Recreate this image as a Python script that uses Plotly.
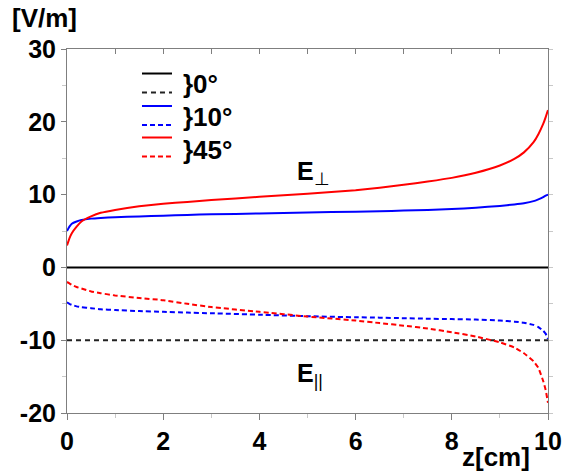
import plotly.graph_objects as go

# Field components along the gap, z in cm, E in V/m
z = [0.0, 0.05, 0.1, 0.2, 0.3, 0.5, 0.7, 1.0, 1.5, 2.0, 2.5, 3.0, 4.0, 5.0,
     6.0, 6.5, 7.0, 7.5, 8.0, 8.5, 9.0, 9.3, 9.5, 9.7, 9.8, 9.9, 9.95, 10.0]
z_ends = [0.0, 10.0]

# 0 degrees: perpendicular component vanishes, parallel one is constant
e_perp_0 = [0.0, 0.0]
e_par_0 = [-10.0, -10.0]

# 10 degrees
e_perp_10 = [5.0, 5.6, 6.0, 6.3, 6.5, 6.7, 6.8, 6.9, 7.0, 7.1, 7.2, 7.3, 7.4, 7.55,
             7.65, 7.72, 7.8, 7.9, 8.02, 8.2, 8.45, 8.65, 8.82, 9.1, 9.35, 9.65, 9.85, 10.0]
e_par_10 = [-4.8, -5.0, -5.15, -5.35, -5.45, -5.6, -5.75, -5.85, -6.0, -6.1, -6.2, -6.3,
            -6.5, -6.7, -6.85, -6.9, -6.98, -7.05, -7.1, -7.17, -7.3, -7.45, -7.6, -7.9,
            -8.2, -8.7, -9.1, -9.8]

# 45 degrees
e_perp_45 = [3.0, 4.0, 4.7, 5.6, 6.3, 7.0, 7.5, 7.9, 8.4, 8.75, 9.0, 9.25, 9.7, 10.1,
             10.6, 10.95, 11.35, 11.8, 12.3, 13.0, 14.0, 14.9, 15.8, 17.2, 18.3, 19.7,
             20.6, 21.6]
e_par_45 = [-2.0, -2.2, -2.4, -2.7, -2.9, -3.3, -3.55, -3.85, -4.2, -4.5, -5.0, -5.45,
            -6.1, -6.75, -7.3, -7.65, -8.0, -8.4, -8.9, -9.5, -10.3, -11.0, -11.8, -12.9,
            -13.8, -15.6, -16.8, -18.6]

angle_labels = ["0°", "10°", "45°"]
y_ticks = [-20, -10, 0, 10, 20, 30]
y_tick_text = ["-20", "-10", "0", "10", "20", "30"]
x_ticks = [0, 2, 4, 6, 8, 10]

FONT = "Liberation Sans, Arial, sans-serif"
AXIS_GRAY = "#7f7f7f"
MINOR_GRAY = "#c8c8c8"

fig = go.Figure()

# one small legend per angle: solid = perpendicular, dashed = parallel
series = [
    (z_ends, e_perp_0, "black", "solid", "legend"),
    (z_ends, e_par_0, "#222222", "5px,4px", "legend"),
    (z, e_perp_10, "#0000ff", "solid", "legend2"),
    (z, e_par_10, "#0000ff", "5px,3px", "legend2"),
    (z, e_perp_45, "#ff0000", "solid", "legend3"),
    (z, e_par_45, "#ff0000", "5px,3px", "legend3"),
]
for xs, ys, color, dash, leg in series:
    fig.add_trace(go.Scatter(
        x=xs, y=ys, mode="lines", name="", legend=leg,
        line=dict(color=color, width=2, dash=dash, shape="spline", smoothing=0.4),
        hoverinfo="skip",
    ))

# empty trace so the top / right frame axes get drawn
fig.add_trace(go.Scatter(x=[], y=[], xaxis="x2", yaxis="y2",
                         showlegend=False, hoverinfo="skip"))

tick_font = dict(family=FONT, size=25, color="black", weight="bold")


def legend_box(ytop):
    return dict(
        x=0.1455, y=ytop, xanchor="left", yanchor="top",
        bgcolor="rgba(0,0,0,0)", borderwidth=0,
        font=dict(family=FONT, size=10),
        itemwidth=30, tracegroupgap=0,
    )


fig.update_layout(
    width=564, height=473,
    margin=dict(l=67, r=16, t=49, b=60),
    paper_bgcolor="white", plot_bgcolor="white",
    showlegend=True,
    legend=legend_box(0.9725),
    legend2=legend_box(0.8832),
    legend3=legend_box(0.7967),
    xaxis=dict(
        range=[0, 10], showgrid=False, zeroline=False, automargin=False,
        showline=True, linecolor=AXIS_GRAY, linewidth=1,
        tickvals=x_ticks, ticks="outside", ticklen=6, tickcolor=AXIS_GRAY,
        tickfont=tick_font,
        minor=dict(dtick=1, ticks="outside", ticklen=4, tickcolor=MINOR_GRAY),
    ),
    yaxis=dict(
        range=[-20, 30], showgrid=False, zeroline=False, automargin=False,
        showline=True, linecolor=AXIS_GRAY, linewidth=1,
        tickvals=y_ticks, ticktext=y_tick_text,
        ticks="outside", ticklen=5, tickcolor=AXIS_GRAY,
        tickfont=tick_font,
        minor=dict(dtick=5, ticks="outside", ticklen=4, tickcolor=MINOR_GRAY),
    ),
    xaxis2=dict(
        overlaying="x", side="top", range=[0, 10], matches="x", automargin=False,
        showgrid=False, zeroline=False, showline=True,
        linecolor=AXIS_GRAY, linewidth=1,
        dtick=1, tick0=0, ticks="inside", ticklen=5, tickcolor=AXIS_GRAY,
        showticklabels=False,
    ),
    yaxis2=dict(
        overlaying="y", side="right", range=[-20, 30], matches="y", automargin=False,
        showgrid=False, zeroline=False, showline=True,
        linecolor=AXIS_GRAY, linewidth=1,
        dtick=5, tick0=0, ticks="outside", ticklen=4, tickcolor=MINOR_GRAY,
        showticklabels=False,
    ),
)

label_font = dict(family=FONT, size=26, color="black", weight="bold")
brace_y = [0.905, 0.814, 0.722]
for label, yy in zip(angle_labels, brace_y):
    fig.add_annotation(
        text="}" + label, xref="paper", yref="paper", x=0.237, y=yy,
        xanchor="left", yanchor="middle", showarrow=False, font=label_font,
    )

fig.add_annotation(
    text="<b>E</b><sub>⊥</sub>", xref="paper", yref="paper", x=0.474, y=0.66,
    xanchor="left", yanchor="middle", showarrow=False,
    font=dict(family=FONT, size=25, color="black"),
)
fig.add_annotation(
    text="<b>E</b><sub>||</sub>", xref="paper", yref="paper", x=0.474, y=0.105,
    xanchor="left", yanchor="middle", showarrow=False,
    font=dict(family=FONT, size=25, color="black"),
)
fig.add_annotation(
    text="[V/m]", xref="paper", yref="paper", x=-0.118, y=1.085,
    xanchor="left", yanchor="middle", showarrow=False, font=label_font,
)
fig.add_annotation(
    text="z[cm]", xref="paper", yref="paper", x=0.892, y=-0.122,
    xanchor="center", yanchor="middle", showarrow=False, font=label_font,
)

fig.write_html("out.html")
